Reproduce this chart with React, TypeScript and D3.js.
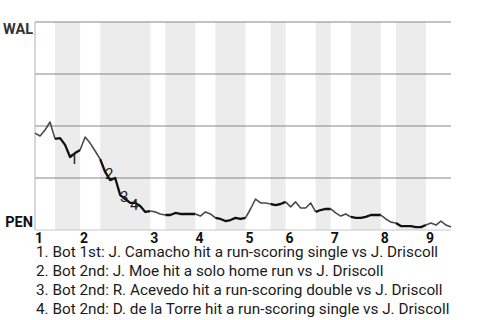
import React from "react";
import * as d3 from "d3";

// Inning labels
const innings = ["1", "2", "3", "4", "5", "6", "7", "8", "9"];
// Play indices at which each half-inning starts (last = end of game)
const halfBounds = [0, 4, 9, 13, 23, 26, 32, 36, 42, 47, 50, 56, 59, 63, 69, 72, 78, 83];
// WAL win probability (%) after each play
const walWinPct = [
  46.6, 45.2, 48.1, 51.9, 43.8, 44.2, 40.9, 35.1, 37.0, 38.5,
  44.7, 41.8, 38.0, 34.1, 27.9, 24.0, 25.0, 16.8, 14.9, 13.0,
  13.0, 11.5, 8.7, 9.1, 8.7, 7.7, 7.2, 7.2, 8.2, 7.7,
  7.7, 7.7, 7.7, 6.7, 8.7, 7.7, 5.8, 5.3, 4.3, 4.8,
  5.8, 5.3, 5.8, 10.1, 14.9, 13.0, 13.0, 12.5, 12.0, 12.5,
  13.5, 11.1, 13.5, 10.6, 10.6, 13.0, 8.7, 9.6, 10.1, 10.1,
  8.2, 6.7, 7.7, 6.3, 5.8, 5.8, 6.3, 7.2, 7.2, 7.2,
  5.3, 3.8, 3.4, 1.9, 1.9, 1.9, 1.4, 1.4, 2.4, 3.4,
  2.4, 4.3, 2.4, 1.4,
];
const teams = ["WAL", "PEN"];
const gridPct = [25, 50, 75, 100];
const eventPlays = [7, 14, 17, 19];
const eventTexts = [
  "1. Bot 1st: J. Camacho hit a run-scoring single vs J. Driscoll",
  "2. Bot 2nd: J. Moe hit a solo home run vs J. Driscoll",
  "3. Bot 2nd: R. Acevedo hit a run-scoring double vs J. Driscoll",
  "4. Bot 2nd: D. de la Torre hit a run-scoring single vs J. Driscoll",
];

const W = 480;
const H = 320;
const left = 35;
const right = 451;
const top = 22;
const bottom = 230;
const font = "Roboto, 'Noto Sans', sans-serif";

export default function App() {
  const x = d3.scaleLinear().domain([0, halfBounds[halfBounds.length - 1]]).range([left, right]);
  const y = d3.scaleLinear().domain([0, 100]).range([bottom, top]);

  const halves = halfBounds.slice(0, -1).map((s, k) => ({ s, e: halfBounds[k + 1], bottomHalf: k % 2 === 1 }));

  const segPath = (s: number, e: number) => {
    const pts: [number, number][] = [];
    for (let i = s; i <= e; i++) pts.push([x(i), y(walWinPct[i])]);
    return d3.line()(pts) || "";
  };

  return (
    <svg width={W} height={H} style={{ position: "fixed", left: 0, top: 0, background: "#fff" }} fontFamily={font}>
      {halves.filter((h) => h.bottomHalf).map((h, i) => (
        <rect key={"b" + i} x={x(h.s)} y={top} width={x(h.e) - x(h.s)} height={bottom - top} fill="#ececec" />
      ))}
      {gridPct.map((p) => (
        <line key={p} x1={left} x2={right} y1={y(p)} y2={y(p)} stroke="#858585" strokeWidth={1} />
      ))}
      <line x1={left} x2={left} y1={top} y2={bottom} stroke="#b0b0b0" strokeWidth={1} />
      <line x1={left} x2={right} y1={bottom} y2={bottom} stroke="#c8c8c8" strokeWidth={1} />
      {halves.map((h, i) => (
        <path
          key={"l" + i}
          d={segPath(h.s, h.e)}
          fill="none"
          stroke={h.bottomHalf ? "#111" : "#4a4a4a"}
          strokeWidth={h.bottomHalf ? 2.3 : 1.6}
          strokeLinejoin="round"
        />
      ))}
      {eventPlays.map((p, i) => (
        <text key={"e" + i} x={x(p) + 4} y={y(walWinPct[p]) + 2} dy="0.35em" textAnchor="middle" fontSize={15} fill="#1a1a1a">
          {i + 1}
        </text>
      ))}
      <text x={33} y={34} textAnchor="end" fontSize={14.5} fontWeight="bold" fill="#333">{teams[0]}</text>
      <text x={33} y={227} textAnchor="end" fontSize={14.5} fontWeight="bold" fill="#111">{teams[1]}</text>
      {innings.map((lab, k) => (
        <text key={"i" + k} x={x(halfBounds[k * 2])} y={242.5} fontSize={14} fontWeight="bold" fill="#111">
          {lab}
        </text>
      ))}
      {eventTexts.map((t, i) => (
        <text key={"t" + i} x={36} y={257 + i * 19} fontSize={15.3} fill="#1a1a1a">
          {t}
        </text>
      ))}
    </svg>
  );
}
